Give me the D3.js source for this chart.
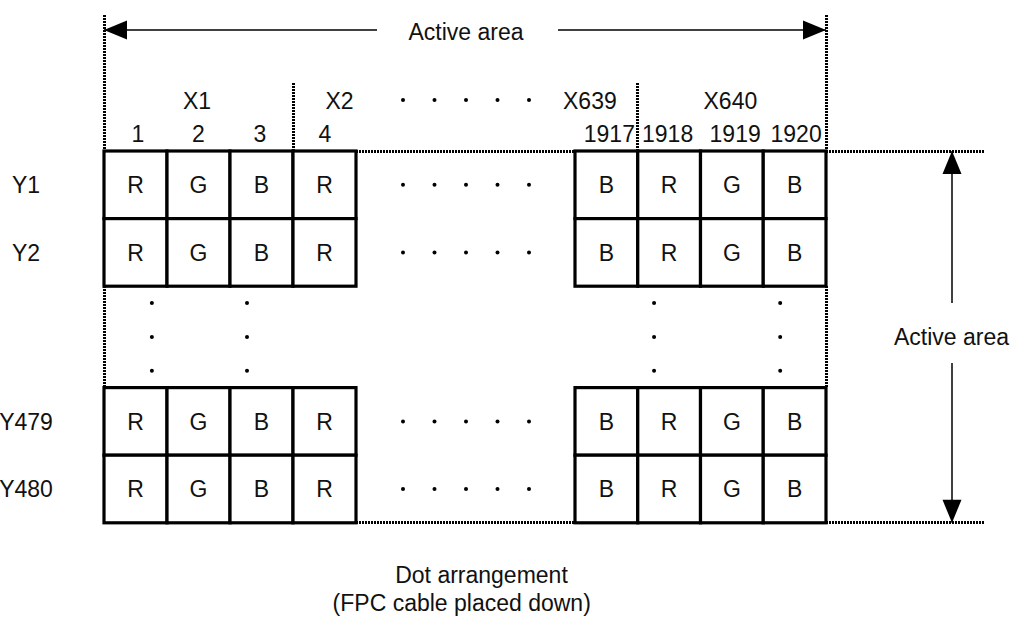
<!DOCTYPE html>
<html><head><meta charset="utf-8">
<script src="https://cdn.jsdelivr.net/npm/d3@7"></script>
<style>
body{margin:0;background:#fff}
text{font-family:"Liberation Sans",Arial,sans-serif;font-size:23px;fill:#111}
</style>
</head><body>
<svg id="c" width="1012" height="620"></svg>
<script>
// ---- data ----
const rowLabels = ["Y1","Y2","Y479","Y480"];
const leftSubpixels = ["1","2","3","4"];
const rightSubpixels = ["1917","1918","1919","1920"];
const leftColors = ["R","G","B","R"];
const rightColors = ["B","R","G","B"];
const pixelLabels = ["X1","X2","X639","X640"];
const areaLabel = "Active area";
const captionLines = ["Dot arrangement","(FPC cable placed down)"];
const ellipsisCount = 5;
const verticalEllipsisCount = 3;

(function(){
// ---- layout ----
const svg = d3.select("#c");
const xL = d3.scaleBand().domain(leftSubpixels).range([104,356]);
const xR = d3.scaleBand().domain(rightSubpixels).range([575,826]);
const colL = d3.scaleLinear().domain([0,4]).range([104,356]);
const colR = d3.scaleLinear().domain([0,4]).range([575,826]);
const slot = d3.scaleOrdinal().domain(rowLabels).range([0,1,3.5,4.5]);
const y = d3.scaleLinear().domain([0,1]).range([151,218.6]);
const rowH = y(1)-y(0);
const dotX = d3.scaleLinear().domain([0,ellipsisCount-1]).range([403,529]);

const dotted = {stroke:"#000","stroke-width":3,"stroke-dasharray":"2,1",fill:"none","shape-rendering":"crispEdges"};
function line(x1,y1,x2,y2,st){
  const l = svg.append("line").attr("x1",x1).attr("y1",y1).attr("x2",x2).attr("y2",y2);
  Object.entries(st).forEach(([k,v])=>l.attr(k,v));
  return l;
}
const thin = {stroke:"#000","stroke-width":1.5};
function head(tx,ty,dir){
  const L=23,W=9.5; let pts;
  if(dir==='l') pts=[[tx,ty],[tx+L,ty-W],[tx+L,ty+W]];
  if(dir==='r') pts=[[tx,ty],[tx-L,ty-W],[tx-L,ty+W]];
  if(dir==='u') pts=[[tx,ty],[tx-W,ty+L],[tx+W,ty+L]];
  if(dir==='d') pts=[[tx,ty],[tx-W,ty-L],[tx+W,ty-L]];
  svg.append("path").attr("d",d3.line()(pts)+"Z").attr("fill","#000");
}

const yTop = y(0), yBot = y(slot("Y480"))+rowH, midTop = y(2), midBot = y(slot("Y479"));
const xEnd = xR("1920")+xR.bandwidth();
line(xL("1"),15,xL("1"),yTop,dotted);
line(xEnd,15,xEnd,yTop,dotted);
line(xL("4"),83,xL("4"),yTop,dotted);
line(xR("1918"),83,xR("1918"),yTop,dotted);
line(xL("1"),midTop,xL("1"),midBot,dotted);
line(xEnd,midTop,xEnd,midBot,dotted);
[yTop,yBot].forEach(v=>{
  line(xL("4")+xL.bandwidth(),v,xR("1917"),v,dotted);
  line(xEnd,v,984,v,dotted);
});

rowLabels.forEach(r=>{
  const y0 = y(slot(r));
  [[xL,leftSubpixels,leftColors],[xR,rightSubpixels,rightColors]].forEach(([sc,keys,cols])=>{
    const g = svg.append("g");
    g.selectAll("rect").data(keys).join("rect")
      .attr("x",d=>sc(d)).attr("y",y0).attr("width",sc.bandwidth()).attr("height",rowH)
      .attr("fill","#fff").attr("stroke","#000").attr("stroke-width",3.2);
    g.selectAll("text").data(keys).join("text")
      .attr("x",d=>sc(d)+sc.bandwidth()/2).attr("y",y0+rowH/2).attr("dy","0.36em")
      .attr("text-anchor","middle").text((d,i)=>cols[i]);
  });
  svg.append("text").attr("x",26).attr("y",y0+rowH/2).attr("dy","0.36em")
    .attr("text-anchor","middle").text(r);
  svg.append("g").selectAll("circle").data(d3.range(ellipsisCount)).join("circle")
    .attr("cx",d=>dotX(d)).attr("cy",y0+rowH/2).attr("r",2).attr("fill","#000");
});

svg.append("g").selectAll("circle").data(d3.range(ellipsisCount)).join("circle")
  .attr("cx",d=>dotX(d)).attr("cy",100).attr("r",2).attr("fill","#000");

const vx = [colL(0.76),colL(2.27),colR(1.26),colR(3.27)];
const vy = d3.scaleLinear().domain([0,verticalEllipsisCount-1]).range([y(2.25),y(3.25)]);
vx.forEach(xx=>{
  svg.append("g").selectAll("circle").data(d3.range(verticalEllipsisCount)).join("circle")
    .attr("cx",xx).attr("cy",d=>vy(d)).attr("r",2).attr("fill","#000");
});

svg.append("g").selectAll("text").data(leftSubpixels).join("text")
  .attr("x",(d,i)=>xL(d)+xL.bandwidth()/2+[2.5,0,-1.5,0.5][i]).attr("y",141.5)
  .attr("text-anchor","middle").text(d=>d);
svg.append("g").selectAll("text").data(rightSubpixels).join("text")
  .attr("x",(d,i)=>xR(d)+xR.bandwidth()/2+[3,-1.5,3.3,1.5][i]).attr("y",141.5)
  .attr("text-anchor","middle").text(d=>d);

const pxX = [(xL("1")+xL("4"))/2, xL("4")+xL.bandwidth()/2+16.5, xR("1917")+xR.bandwidth()/2-15, (xR("1918")+xEnd)/2];
svg.append("g").selectAll("text").data(pixelLabels).join("text")
  .attr("x",(d,i)=>pxX[i]-1.5).attr("y",108.5).attr("text-anchor","middle").text(d=>d);

const axL = xL("1");
line(axL,30,377,30,thin); line(558,30,xEnd,30,thin);
head(axL,30,'l'); head(xEnd,30,'r');
svg.append("text").attr("x",466).attr("y",40).attr("text-anchor","middle").text(areaLabel);

const ax = 952;
line(ax,yTop,ax,303,thin); line(ax,363,ax,yBot,thin);
head(ax,yTop,'u'); head(ax,yBot,'d');
svg.append("text").attr("x",951.5).attr("y",345).attr("text-anchor","middle").text(areaLabel);

svg.append("g").selectAll("text").data(captionLines).join("text")
  .attr("x",(d,i)=>[481.5,461.7][i]).attr("y",(d,i)=>583+i*27.5)
  .attr("text-anchor","middle").text(d=>d);
})();
</script>
</body></html>
